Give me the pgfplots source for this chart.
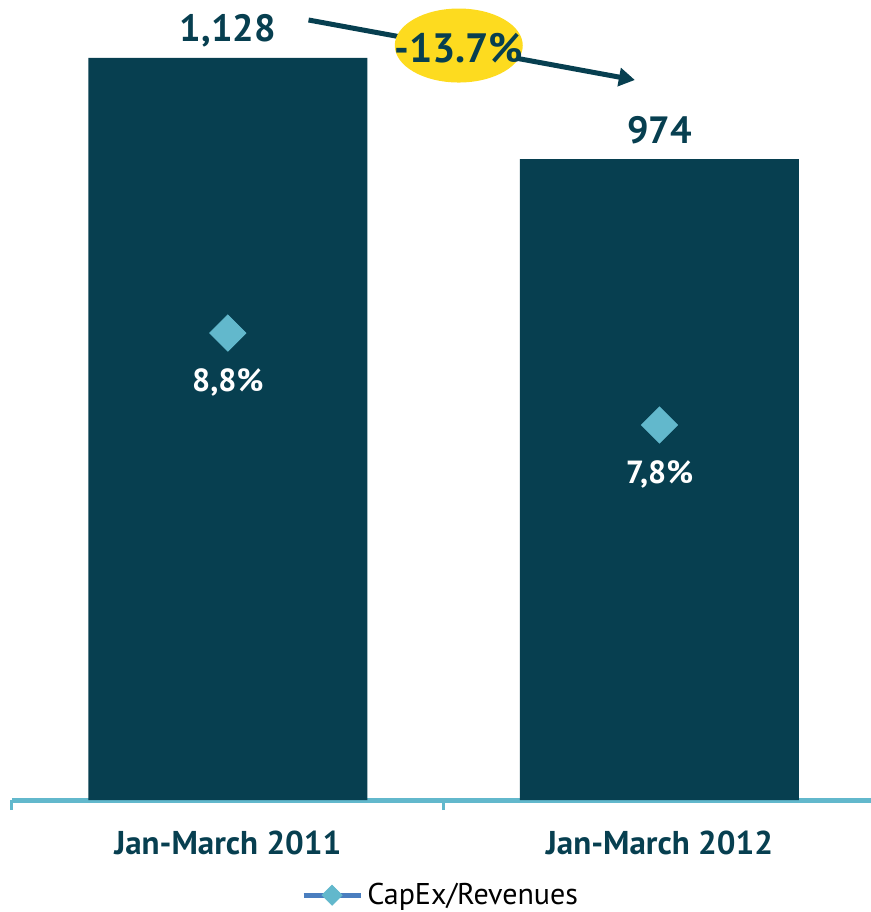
\documentclass[border=0pt]{standalone}
\usepackage{pgfplots}
\pgfplotsset{compat=1.18}
\usepackage{fontspec}
\setmainfont{PT Sans}
\usetikzlibrary{arrows.meta}
\definecolor{barc}{HTML}{073F50}
\definecolor{axl}{HTML}{62B8CC}
\definecolor{diam}{HTML}{62B8CC}
\definecolor{legl}{HTML}{4A7EBF}
\definecolor{yel}{HTML}{FDDB1F}
\begin{document}
\begin{tikzpicture}
\useasboundingbox (0,0) rectangle (435.5pt,456pt);
\begin{axis}[
 at={(6pt,56pt)}, anchor=south west, scale only axis, width=429.5pt, height=400pt,
 xmin=-0.5, xmax=1.49, ymin=0, ymax=1216,
 axis x line*=bottom, axis y line=none,
 x axis line style={line width=2.5pt, axl, -},
 xtick={0,1}, xticklabels={Jan-March 2011, Jan-March 2012},
 major tick length=0pt,
 minor xtick={-0.5,0.5,1.5}, minor tick length=5pt, tick align=outside,
 minor tick style={line width=1.5pt, axl},
 xticklabel style={font=\fontsize{16.5}{19}\selectfont\bfseries, text=barc, yshift=-12pt},
 ybar, bar width=139.5pt,
 nodes near coords, point meta=explicit symbolic,
 nodes near coords style={font=\fontsize{19}{22}\selectfont\bfseries, text=barc, anchor=base, yshift=8pt},
 clip=false,
]
\addplot[fill=barc, draw=none] coordinates {(0,1128) [1,128] (1,974) [974]};
\draw[line width=2.5pt, barc, -{Triangle[length=8pt,width=9pt]}] (axis cs:0.187,1185.6) -- (axis cs:0.943,1094.4);
\fill[yel] (axis cs:0.535,1146.8) ellipse [x radius=32pt, y radius=18.5pt];
\node[font=\fontsize{20.5}{24}\selectfont\bfseries, text=barc] at (axis cs:0.535,1143) {-13.7\%};
\end{axis}
\begin{axis}[
 at={(6pt,56pt)}, anchor=south west, scale only axis, width=429.5pt, height=400pt,
 xmin=-0.5, xmax=1.49, ymin=3.724, ymax=12.42,
 hide axis, clip=false,
 nodes near coords, point meta=explicit symbolic,
 nodes near coords style={font=\fontsize{16}{19}\selectfont\bfseries, text=white, anchor=center, yshift=-24.5pt},
 legend style={at={(0.5,-0.119)}, anchor=center, draw=none, fill=none, font=\fontsize{15}{18}\selectfont, inner xsep=0pt},
 legend cell align=left,
]
\addplot[only marks, mark=square*, mark size=6.4pt, mark options={rotate=45, fill=diam, draw=diam},
 legend image code/.code={\draw[line width=2.6pt,legl] (0pt,0pt) -- (28.5pt,0pt); \fill[diam] (14.2pt,5pt) -- (19.2pt,0pt) -- (14.2pt,-5pt) -- (9.2pt,0pt) -- cycle;}]
 coordinates {(0,8.8) [8,8\%] (1,7.8) [7,8\%]};
\addlegendentry{CapEx/Revenues}
\end{axis}
\end{tikzpicture}
\end{document}
